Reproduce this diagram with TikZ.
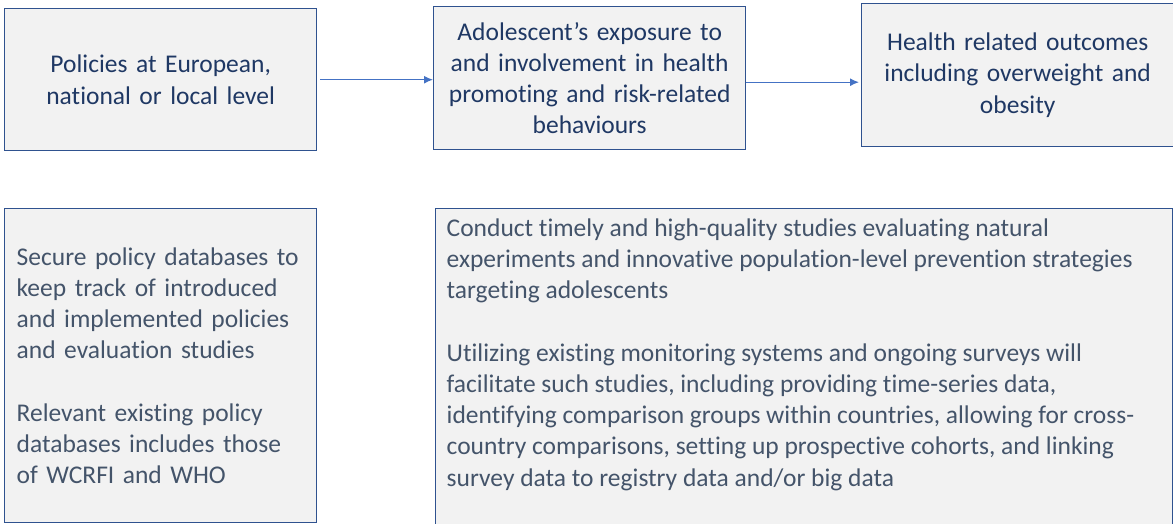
\documentclass[tikz,border=0pt]{standalone}
\usepackage{fontspec}
\setmainfont[Ligatures=NoCommon]{Carlito}
\usetikzlibrary{arrows.meta}
\definecolor{rahmen}{HTML}{2F528F}
\definecolor{fuellung}{HTML}{F2F2F2}
\definecolor{textblau}{HTML}{1F3864}
\definecolor{textgrau}{HTML}{44546A}
\definecolor{pfeilblau}{HTML}{4472C4}
\tikzset{
  kasten/.style={draw=rahmen, fill=fuellung, line width=1.4pt, anchor=north west,
    inner xsep=12pt, inner ysep=0pt, font=\fontsize{25.5}{31.2}\selectfont},
  oben/.style={kasten, align=center, text=textblau, text width=288pt, minimum height=143pt},
  unten/.style={kasten, text=textgrau},
  pfeil/.style={draw=pfeilblau, line width=1.3pt, -{Latex[length=9pt,width=8pt]}}
}
\begin{document}
\begin{tikzpicture}[x=1pt,y=-1pt]
  % Rahmen
  \useasboundingbox (0,0) rectangle (1173,524);
  % Kaesten oben
  \node[oben, minimum height=142pt] (politik) at (4,8) {Policies at European,\\ national or local level};
  \node[oben] (verhalten) at (433,6) {Adolescent’s exposure to\\ and involvement in health\\ promoting and risk-related\\ behaviours};
  \node[oben] (folgen) at (861,3) {Health related outcomes\\ including overweight and\\ obesity};
  % Pfeile
  \draw[pfeil] ([xshift=3pt]politik.east) -- (politik.east -| verhalten.west);
  \draw[pfeil, shorten >=2pt] ([yshift=-4pt]verhalten.east) -- ([yshift=-4pt]verhalten.east -| folgen.west);
  % Kaesten unten
  \node[unten, align=left, text width=288pt, minimum height=314pt] (datenbank) at (4,208)
    {Secure policy databases to\\ keep track of introduced\\ and implemented policies\\ and evaluation studies\\[31.2pt]
     Relevant existing policy\\ databases includes those\\ of WCRFI and WHO};
  \node[unten, inner xsep=11pt, inner ysep=10pt, minimum height=320pt] (studien) at (435,208)
    {\begin{minipage}[t][300pt][t]{715pt}\raggedright
     Conduct timely and high-quality studies evaluating natural\\ experiments and innovative population-level prevention strategies\\ targeting adolescents\\[31.2pt]
     Utilizing existing monitoring systems and ongoing surveys will\\ facilitate such studies, including providing time-series data,\\ identifying comparison groups within countries, allowing for cross-\\ country comparisons, setting up prospective cohorts, and linking\\ survey data to registry data and/or big data
     \end{minipage}};
\end{tikzpicture}
\end{document}
